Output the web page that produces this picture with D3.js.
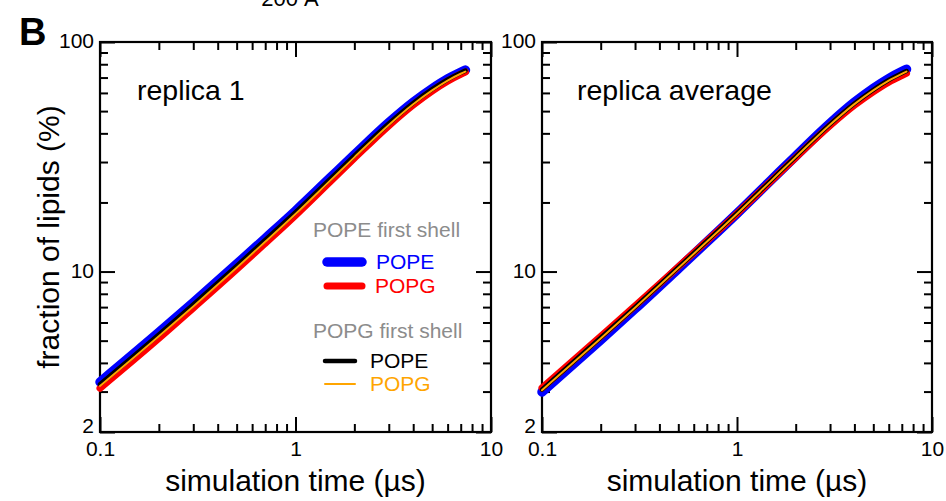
<!DOCTYPE html>
<html lang="en">
<head>
<meta charset="utf-8">
<script src="https://d3js.org/d3.v7.min.js"></script>
<title>Fraction of lipids vs simulation time</title>
<style>
    body { margin: 0; background: #fff; }
    svg { display: block; font-family: "Liberation Sans", Arial, sans-serif; }
</style>
</head>
<body>
<div id="chart"></div>
<script type="text/javascript">
    // time points (microseconds)
    var times = [0.1, 0.2, 0.3, 0.5, 0.7, 1, 1.5, 2, 3, 4, 5, 6, 7, 7.4];

    // replica 1 (fraction of lipids, %)
    var rep1PopeShellPope = [3.30, 5.43, 7.32, 10.77, 13.94, 18.38, 25.55, 32.27, 44.55, 54.65, 62.64, 69.05, 73.83, 75.45];
    var rep1PopeShellPopg = [3.10, 5.11, 6.93, 10.21, 13.27, 17.57, 24.56, 31.14, 43.16, 53.15, 61.17, 67.56, 72.37, 73.95];
    var rep1PopgShellPope = [3.23, 5.32, 7.19, 10.59, 13.73, 18.13, 25.27, 31.96, 44.18, 54.26, 62.27, 68.68, 73.47, 75.07];
    var rep1PopgShellPopg = [3.17, 5.22, 7.05, 10.39, 13.47, 17.81, 24.83, 31.44, 43.52, 53.54, 61.53, 67.92, 72.73, 74.33];

    // replica average
    var avgPopeShellPope = [2.99, 5.04, 6.88, 10.29, 13.44, 17.91, 25.09, 31.86, 44.24, 54.59, 62.79, 69.35, 74.36, 76.03];
    var avgPopeShellPopg = [3.11, 5.22, 7.08, 10.49, 13.58, 17.91, 24.85, 31.36, 43.20, 52.97, 60.69, 66.89, 71.44, 73.05];
    var avgPopgShellPope = [3.06, 5.15, 7.00, 10.42, 13.55, 17.96, 25.04, 31.70, 43.85, 53.94, 61.92, 68.32, 73.12, 74.76];
    var avgPopgShellPopg = [3.04, 5.11, 6.96, 10.36, 13.47, 17.86, 24.90, 31.52, 43.59, 53.62, 61.56, 67.92, 72.68, 74.32];

    // tick values
    var xMajor = [0.1, 1, 10];
    var xMinor = [0.2, 0.3, 0.4, 0.5, 0.6, 0.7, 0.8, 0.9, 2, 3, 4, 5, 6, 7, 8, 9];
    var yMajor = [2, 10, 100];
    var yMinor = [3, 4, 5, 6, 7, 8, 9, 20, 30, 40, 50, 60, 70, 80, 90];

    var panelTitles = ["replica 1", "replica average"];

    var series = [
        {name: "POPE", color: "#0000ff", width: 9.5, rep1: rep1PopeShellPope, avg: avgPopeShellPope},
        {name: "POPG", color: "#ff0000", width: 7, rep1: rep1PopeShellPopg, avg: avgPopeShellPopg},
        {name: "POPE", color: "#000000", width: 4.5, rep1: rep1PopgShellPope, avg: avgPopgShellPope},
        {name: "POPG", color: "#ffa500", width: 2, rep1: rep1PopgShellPopg, avg: avgPopgShellPopg}
    ];

    var W = 946, H = 501;
    var plotTop = 42, plotBottom = 432;
    var panels = [
        {x0: 100, x1: 491, key: "rep1", title: panelTitles[0], titleX: 137},
        {x0: 542, x1: 932, key: "avg", title: panelTitles[1], titleX: 577}
    ];

    var svg = d3.select("#chart")
        .append("svg")
            .attr("width", W)
            .attr("height", H);

    svg.append("rect")
        .attr("width", W)
        .attr("height", H)
        .attr("fill", "#fff");

    var y = d3.scaleLog()
        .domain([2, 100])
        .range([plotBottom, plotTop]);

    panels.forEach(function(p) {
        var x = d3.scaleLog()
            .domain([0.1, 10])
            .range([p.x0, p.x1]);

        var g = svg.append("g");

        // minor ticks, pointing inward on all four sides
        g.append("g").attr("transform", "translate(0," + plotBottom + ")")
            .call(d3.axisBottom(x).tickValues(xMinor).tickSizeInner(-8).tickSizeOuter(0).tickFormat(""));
        g.append("g").attr("transform", "translate(0," + plotTop + ")")
            .call(d3.axisTop(x).tickValues(xMinor).tickSizeInner(-8).tickSizeOuter(0).tickFormat(""));
        g.append("g").attr("transform", "translate(" + p.x0 + ",0)")
            .call(d3.axisLeft(y).tickValues(yMinor).tickSizeInner(-8).tickSizeOuter(0).tickFormat(""));
        g.append("g").attr("transform", "translate(" + p.x1 + ",0)")
            .call(d3.axisRight(y).tickValues(yMinor).tickSizeInner(-8).tickSizeOuter(0).tickFormat(""));

        // major ticks with labels
        g.append("g").attr("class", "lab").attr("transform", "translate(0," + plotBottom + ")")
            .call(d3.axisBottom(x).tickValues(xMajor).tickSizeInner(-15).tickSizeOuter(0).tickPadding(9)
                .tickFormat(function(d) { return d3.format("~g")(d); }));
        g.append("g").attr("transform", "translate(0," + plotTop + ")")
            .call(d3.axisTop(x).tickValues(xMajor).tickSizeInner(-15).tickSizeOuter(0).tickFormat(""));
        g.append("g").attr("class", "lab ylab").attr("transform", "translate(" + p.x0 + ",0)")
            .call(d3.axisLeft(y).tickValues(yMajor).tickSizeInner(-15).tickSizeOuter(0).tickPadding(6)
                .tickFormat(function(d) { return d3.format("~g")(d); }));
        g.append("g").attr("transform", "translate(" + p.x1 + ",0)")
            .call(d3.axisRight(y).tickValues(yMajor).tickSizeInner(-15).tickSizeOuter(0).tickFormat(""));

        g.selectAll(".domain").remove();
        g.selectAll(".tick line").attr("stroke", "#000").attr("stroke-width", 2);
        g.selectAll(".lab")
            .attr("font-size", 21)
            .attr("font-family", "'Liberation Sans', Arial, sans-serif");
        g.selectAll(".lab text").attr("fill", "#000");
        // the lowest label sits a little higher, clear of the 0.1 below it
        g.selectAll(".ylab text").attr("dy", function(d) { return d === 2 ? "0.02em" : "0.28em"; });

        // frame
        g.append("rect")
            .attr("x", p.x0)
            .attr("y", plotTop)
            .attr("width", p.x1 - p.x0)
            .attr("height", plotBottom - plotTop)
            .attr("fill", "none")
            .attr("stroke", "#000")
            .attr("stroke-width", 2.2);

        // curves, thickest first
        var line = d3.line()
            .x(function(d) { return x(d[0]); })
            .y(function(d) { return y(d[1]); })
            .curve(d3.curveMonotoneX);

        series.forEach(function(s) {
            var pts = times.map(function(t, k) { return [t, s[p.key][k]]; });
            g.append("path")
                .datum(pts)
                .attr("d", line)
                .attr("fill", "none")
                .attr("stroke", s.color)
                .attr("stroke-width", s.width)
                .attr("stroke-linecap", "round")
                .attr("stroke-linejoin", "round");
        });

        // panel title
        g.append("text")
            .attr("x", p.titleX)
            .attr("y", 100)
            .text(p.title)
            .style("font-size", "28.5px");

        // x axis title
        g.append("text")
            .attr("text-anchor", "middle")
            .attr("x", (p.x0 + p.x1) / 2)
            .attr("y", 491)
            .text("simulation time (\u00b5s)")
            .style("font-size", "30px");
    });

    // y axis title
    svg.append("text")
        .attr("text-anchor", "middle")
        .attr("transform", "rotate(-90)")
        .attr("x", -237)
        .attr("y", 59)
        .text("fraction of lipids (%)")
        .style("font-size", "30px");

    // panel letter and cut-off label above
    svg.append("text")
        .attr("x", 19)
        .attr("y", 45)
        .text("B")
        .style("font-size", "38px")
        .style("font-weight", "bold");

    svg.append("text")
        .attr("text-anchor", "middle")
        .attr("x", 290)
        .attr("y", 6)
        .text("200 \u00c5")
        .style("font-size", "22px");

    // legend
    var legend = svg.append("g");
    var legendRows = [
        {label: "POPE first shell", color: "#8c8c8c", y: 237},
        {s: 0, y: 262, x1: 327, x2: 362, tx: 376},
        {s: 1, y: 286, x1: 327, x2: 362, tx: 375},
        {label: "POPG first shell", color: "#8c8c8c", y: 338},
        {s: 2, y: 361, x1: 325, x2: 355, tx: 370},
        {s: 3, y: 384, x1: 325, x2: 355, tx: 370}
    ];

    legendRows.forEach(function(r) {
        if (r.label) {
            legend.append("text")
                .attr("x", 313)
                .attr("y", r.y)
                .attr("fill", r.color)
                .text(r.label)
                .style("font-size", "21px");
        } else {
            var s = series[r.s];
            legend.append("line")
                .attr("x1", r.x1)
                .attr("x2", r.x2)
                .attr("y1", r.y)
                .attr("y2", r.y)
                .attr("stroke", s.color)
                .attr("stroke-width", s.width)
                .attr("stroke-linecap", "round");
            legend.append("text")
                .attr("x", r.tx)
                .attr("y", r.y + 7)
                .attr("fill", s.color)
                .text(s.name)
                .style("font-size", "21px");
        }
    });
</script>
</body>
</html>
